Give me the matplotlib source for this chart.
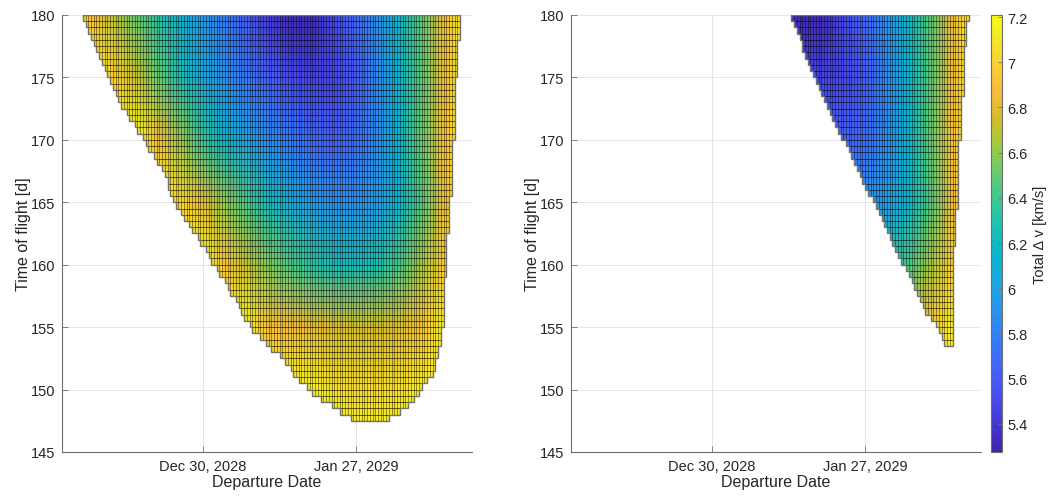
import numpy as np
import matplotlib
matplotlib.use("Agg")
import matplotlib.pyplot as plt
import matplotlib.dates as mdates
from matplotlib.colors import LinearSegmentedColormap, Normalize
from matplotlib.cm import ScalarMappable
from matplotlib.path import Path
from matplotlib.patches import PathPatch
from matplotlib.ticker import FormatStrFormatter

plt.rcParams['font.family'] = ['Liberation Sans', 'DejaVu Sans']

# departure date nodes, days after Dec 30, 2028
ref_date = np.datetime64('2028-12-30')
dep_days = [-24, -20, -16, -12, -8, -4, 0, 4, 8, 12, 16, 20, 24, 28, 32, 36, 40, 44, 48]
tof_nodes = [145, 150, 155, 160, 165, 170, 175, 180]

# total delta-v [km/s], one row per time of flight node
dv_145 = [7.2, 7.2, 7.2, 7.2, 7.2, 7.2, 7.2, 7.2, 7.2, 7.2, 7.2, 7.2, 7.2, 7.2, 7.2, 7.2, 7.2, 7.2, 7.2]
dv_150 = [7.2, 7.2, 7.2, 7.2, 7.2, 7.2, 7.2, 7.2, 7.2, 7.2, 7.2, 7.15, 7.08, 7.05, 7.05, 7.08, 7.15, 7.2, 7.2]
dv_155 = [7.2, 7.2, 7.2, 7.2, 7.2, 7.2, 7.2, 7.2, 7.15, 6.9, 6.86, 6.82, 6.78, 6.76, 6.76, 6.8, 6.9, 7.15, 7.2]
dv_160 = [7.2, 7.2, 7.2, 7.2, 7.2, 7.2, 7.2, 6.92, 6.72, 6.56, 6.44, 6.33, 6.25, 6.23, 6.28, 6.42, 6.65, 6.98, 7.2]
dv_165 = [7.2, 7.2, 7.2, 7.2, 7.2, 7.02, 6.82, 6.6, 6.42, 6.22, 6.07, 5.96, 5.9, 5.9, 5.97, 6.15, 6.45, 6.85, 7.2]
dv_170 = [7.2, 7.2, 7.2, 7.2, 6.88, 6.62, 6.37, 6.15, 6.0, 5.87, 5.77, 5.68, 5.64, 5.7, 5.88, 6.15, 6.5, 6.9, 7.2]
dv_175 = [7.2, 7.2, 6.98, 6.72, 6.5, 6.25, 6.05, 5.9, 5.75, 5.62, 5.52, 5.47, 5.5, 5.6, 5.85, 6.15, 6.48, 6.85, 7.2]
dv_180 = [7.2, 6.88, 6.68, 6.5, 6.3, 6.1, 5.95, 5.78, 5.6, 5.42, 5.31, 5.32, 5.5, 5.68, 5.9, 6.17, 6.48, 6.85, 7.2]

# outline of the solution region: time of flight vs first / last departure day
left_tof = [147.6, 148.25, 148.75, 149.25, 149.75, 150.25, 151, 152, 153, 155, 157.5, 160,
            162.5, 165, 167.5, 170, 172.5, 175, 177.5, 180.2]
left_lo = [27.8, 24.8, 23.3, 21.3, 20.2, 18.8, 17.2, 15.3, 13.3, 8.6, 5.6, 2.0,
           -1.5, -5.2, -7.4, -10.8, -14.6, -17.2, -19.9, -22.6]
left_hi = [33.4, 35.9, 37.3, 38.3, 39.3, 40.2, 41.5, 42.6, 43.1, 43.7, 44.2, 44.3,
           44.8, 45.2, 45.4, 45.7, 46.2, 46.2, 46.7, 47.2]

right_tof = [153.55, 154, 155, 156, 157.25, 158, 160, 162.5, 165, 167.5, 170, 172, 175, 177.5, 180.2]
right_lo = [42.6, 42.5, 41.3, 39.6, 37.8, 37.0, 35.0, 32.4, 29.6, 26.7, 24.0, 21.8, 18.9, 16.5, 14.4]
right_hi = [43.9, 43.9, 43.9, 43.9, 43.9, 43.9, 44.0, 44.4, 44.8, 44.8, 45.2, 45.7, 45.8, 46.3, 46.9]

dv_min, dv_max = 5.276, 7.209
step = 0.5

parula_rgb = [
    (0.2422, 0.1504, 0.6603), (0.2706, 0.2147, 0.8364), (0.2813, 0.3006, 0.9414),
    (0.2699, 0.3892, 0.9906), (0.1963, 0.4847, 0.9892), (0.1687, 0.5703, 0.9359),
    (0.1248, 0.6459, 0.8883), (0.0297, 0.7082, 0.8163), (0.0964, 0.7500, 0.7120),
    (0.2161, 0.7843, 0.5923), (0.3909, 0.8029, 0.4354), (0.6174, 0.7876, 0.2612),
    (0.8203, 0.7498, 0.1535), (0.9728, 0.7298, 0.2394), (0.9892, 0.8136, 0.1885),
    (0.9597, 0.9135, 0.1423), (0.9769, 0.9839, 0.0805)]
pos = [i * 4 / 63 for i in range(16)] + [1.0]
parula = LinearSegmentedColormap.from_list('parula', list(zip(pos, parula_rgb)))

x0 = mdates.date2num(ref_date)
dv = np.array([dv_145, dv_150, dv_155, dv_160, dv_165, dv_170, dv_175, dv_180])
d_edges = np.arange(-26, 49.5 + step, step)
t_edges = np.arange(145, 180 + step, step)
dc, tc = np.meshgrid(d_edges[:-1] + step / 2, t_edges[:-1] + step / 2)

ink = '#262626'


def region(tof, lo, hi):
    poly = Path(np.column_stack([lo + hi[::-1], tof + tof[::-1]]))
    inside = poly.contains_points(np.column_stack([dc.ravel(), tc.ravel()])).reshape(dc.shape)
    left, right = [], []
    for j in range(inside.shape[0]):
        cols = np.flatnonzero(inside[j])
        if cols.size == 0:
            continue
        a, b = d_edges[cols[0]] + x0, d_edges[cols[-1] + 1] + x0
        left += [(a, t_edges[j]), (a, t_edges[j + 1])]
        right += [(b, t_edges[j]), (b, t_edges[j + 1])]
    return Path(left + right[::-1] + [left[0]], closed=True)


def porkchop(ax, tof, lo, hi):
    clip = PathPatch(region(tof, lo, hi), transform=ax.transData)
    mesh = ax.pcolormesh(x0 + np.array(dep_days), tof_nodes, dv, shading='gouraud',
                         cmap=parula, vmin=dv_min, vmax=dv_max, zorder=2)
    mesh.set_clip_path(clip)
    vl = ax.vlines(x0 + d_edges, 145, 180, colors='k', linewidth=0.45, alpha=0.65, zorder=3)
    hl = ax.hlines(t_edges, x0 + d_edges[0], x0 + d_edges[-1], colors='k', linewidth=0.55,
                   alpha=0.75, zorder=3)
    vl.set_clip_path(clip)
    hl.set_clip_path(clip)
    ax.add_patch(PathPatch(region(tof, lo, hi), facecolor='none', edgecolor='#707070',
                           linewidth=1.0, zorder=4))

    ax.set_xlim(x0 - 25.8, x0 + 49.2)
    ax.set_ylim(145, 180)
    ax.set_yticks(range(145, 181, 5))
    ax.set_xticks([mdates.date2num(np.datetime64('2028-12-30')),
                   mdates.date2num(np.datetime64('2029-01-27'))])
    ax.xaxis.set_major_formatter(mdates.DateFormatter('%b %d, %Y'))
    ax.grid(True, color='#e6e6e6', linewidth=0.7, zorder=0)
    ax.set_axisbelow(True)
    for s in ['top', 'right']:
        ax.spines[s].set_visible(False)
    for s in ['left', 'bottom']:
        ax.spines[s].set_color('#6e6e6e')
        ax.spines[s].set_linewidth(0.8)
    ax.tick_params(direction='in', length=4, width=0.6, color='#6e6e6e', labelcolor=ink,
                   labelsize=10.5, pad=5)
    ax.set_xlabel('Departure Date', fontsize=11.5, color=ink, labelpad=1)
    ax.set_ylabel('Time of flight [d]', fontsize=11.5, color=ink, labelpad=0)


fig = plt.figure(figsize=(10.49, 5.02), dpi=100)
ax1 = fig.add_axes([62 / 1049, 49 / 502, 410 / 1049, 437 / 502])
ax2 = fig.add_axes([571 / 1049, 49 / 502, 410 / 1049, 437 / 502])
porkchop(ax1, left_tof, left_lo, left_hi)
porkchop(ax2, right_tof, right_lo, right_hi)

cax = fig.add_axes([991 / 1049, 49 / 502, 11 / 1049, 437 / 502])
cb = fig.colorbar(ScalarMappable(Normalize(dv_min, dv_max), parula), cax=cax)
cb.set_ticks(np.arange(5.4, 7.21, 0.2))
cb.ax.yaxis.set_major_formatter(FormatStrFormatter('%g'))
cb.outline.set_edgecolor('#6e6e6e')
cb.outline.set_linewidth(0.8)
cb.ax.tick_params(direction='in', length=3, width=0.6, color='#6e6e6e', labelcolor=ink,
                  labelsize=10.5, pad=4)
cb.set_label('Total \u0394 v [km/s]', fontsize=10.5, color=ink, labelpad=4)

fig.savefig('out.png', dpi=100)
